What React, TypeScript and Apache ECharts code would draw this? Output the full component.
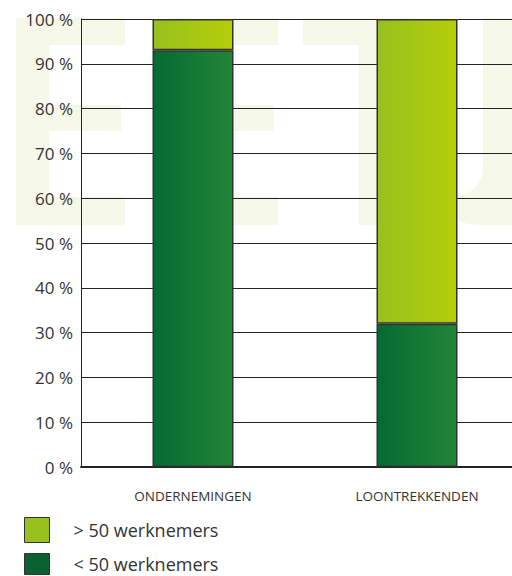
import React, { useEffect, useRef } from "react";
import * as echarts from "echarts";

const categories = ["ONDERNEMINGEN", "LOONTREKKENDEN"];
const smallFirms = [93, 32]; // < 50 werknemers
const largeFirms = [7, 68]; // > 50 werknemers
const seriesNames = ["< 50 werknemers", "> 50 werknemers"];
const yMin = 0;
const yMax = 100;
const yInterval = 10;

const WM = "#f5f8e8";

export default function App() {
  const ref = useRef<HTMLDivElement>(null);
  useEffect(() => {
    if (!ref.current) return;
    const chart = echarts.init(ref.current, null, { renderer: "svg" });
    const rect = (x: number, y: number, w: number, h: number, r?: number[] | number, fill = WM) => ({
      type: "rect",
      z: -10,
      silent: true,
      shape: { x, y, width: w, height: h, r: r ?? 0 },
      style: { fill },
    });
    const watermark = [
      // E
      rect(16, 18, 109, 27),
      rect(16, 18, 33, 207),
      rect(16, 105, 105, 26),
      rect(16, 197, 109, 28),
      // E
      rect(169, 18, 109, 27),
      rect(169, 18, 33, 207),
      rect(169, 105, 105, 26),
      rect(169, 197, 109, 28),
      // T
      rect(303, 18, 146, 27),
      rect(359, 18, 34, 207),
      // J
      rect(420, 120, 100, 105, [0, 0, 0, 60]),
      rect(420, 100, 63, 96, [0, 0, 28, 0], "#ffffff"),
      rect(483, 18, 40, 180),
    ];

    const darkGrad = new echarts.graphic.LinearGradient(0, 0, 1, 0, [
      { offset: 0, color: "#056a31" },
      { offset: 1, color: "#228638" },
    ]);
    const lightGrad = new echarts.graphic.LinearGradient(0, 0, 1, 0, [
      { offset: 0, color: "#96c11f" },
      { offset: 1, color: "#b5cd09" },
    ]);

    const legendBase = {
      orient: "vertical",
      left: 24,
      padding: 0,
      itemWidth: 25,
      icon: "rect",
      selectedMode: false,
      itemStyle: { borderColor: "#333", borderWidth: 1 },
    };
    const legendText = {
      fontFamily: "Open Sans",
      fontSize: 18,
      lineHeight: 18,
      color: "#333",
    };

    chart.setOption({
      animation: false,
      graphic: { elements: watermark },
      grid: {
        left: 81,
        width: 448,
        top: 19,
        bottom: 109,
        containLabel: false,
        outerBoundsMode: "none",
      },
      legend: [
        {
          ...legendBase,
          top: 517,
          itemHeight: 25,
          textStyle: { ...legendText, padding: [4, 0, 0, 19] },
          data: [{ name: seriesNames[1], itemStyle: { color: "#98c11e" } }],
        },
        {
          ...legendBase,
          top: 553,
          itemHeight: 21,
          textStyle: { ...legendText, padding: [0, 0, 0, 19] },
          data: [{ name: seriesNames[0], itemStyle: { color: "#0b6132" } }],
        },
      ],
      xAxis: {
        type: "category",
        data: categories,
        axisLine: { show: true, lineStyle: { color: "#222", width: 2 } },
        axisTick: { show: false },
        axisLabel: {
          margin: 22,
          fontFamily: "Open Sans",
          fontSize: 13.5,
          color: "#333",
        },
      },
      yAxis: {
        type: "value",
        min: yMin,
        max: yMax,
        interval: yInterval,
        axisLine: { show: true, lineStyle: { color: "#222", width: 1 } },
        axisTick: { show: false },
        splitLine: { show: true, lineStyle: { color: "#222", width: 1 } },
        axisLabel: {
          formatter: "{value} %",
          margin: 8,
          fontFamily: "Open Sans",
          fontSize: 17,
          color: "#333",
        },
      },
      series: [
        {
          name: seriesNames[0],
          type: "bar",
          stack: "total",
          barWidth: 81,
          data: smallFirms,
          itemStyle: { color: darkGrad, borderColor: "#333", borderWidth: 1.5 },
        },
        {
          name: seriesNames[1],
          type: "bar",
          stack: "total",
          barWidth: 81,
          data: largeFirms,
          itemStyle: { color: lightGrad, borderColor: "#333", borderWidth: 1.5 },
        },
      ],
    });
    return () => chart.dispose();
  }, []);
  return (
    <div
      ref={ref}
      style={{ position: "absolute", left: 0, top: 0, width: 512, height: 576 }}
    />
  );
}
